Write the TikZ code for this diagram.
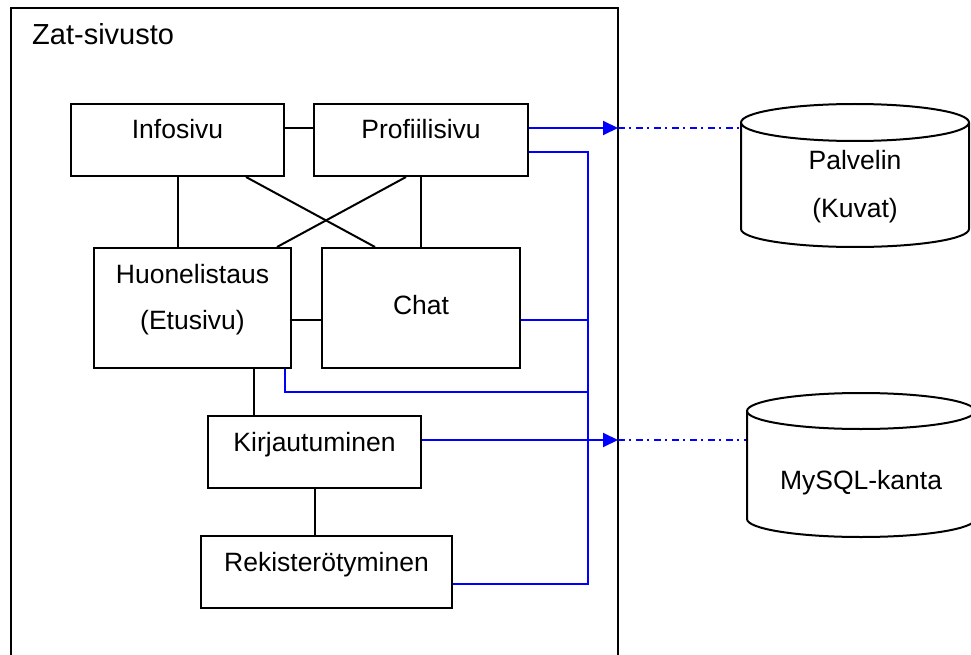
\documentclass[tikz,border=0pt]{standalone}
\usepackage{fontspec}
\setmainfont{Liberation Sans}
\usetikzlibrary{arrows.meta}
\definecolor{linkblue}{RGB}{0,0,255}
\begin{document}
\begin{tikzpicture}[x=1pt,y=-1pt,
  box/.style={draw, line width=2pt, inner sep=0pt, fill=white},
  lbl/.style={font=\fontsize{26.5}{30}\selectfont, anchor=base, inner sep=0pt},
  titletext/.style={font=\fontsize{29}{33}\selectfont, anchor=base west, inner sep=0pt},
  link/.style={draw=black, line width=2pt},
  web/.style={draw=linkblue, line width=2pt},
  webtip/.style={web, -{Triangle[length=15pt,width=14pt]}},
  remote/.style={draw=linkblue, line width=2pt, dash pattern=on 7pt off 4pt on 2pt off 5pt},
  cyl/.style={draw=black, line width=2pt},
  frame/.style={draw=black, line width=2pt}]
\useasboundingbox (0,0) rectangle (971,655);
\clip (0,0) rectangle (971,655);

% site frame
\draw[frame] (11,8) rectangle (618,690);
\node[titletext] (title) at (32,45) {Zat-sivusto};

% pages
\node[box, minimum width=213pt, minimum height=72pt]  (info) at (177.5,140) {};
\node[box, minimum width=214pt, minimum height=72pt]  (prof) at (421,140) {};
\node[box, minimum width=197pt, minimum height=120pt] (huon) at (192.5,308) {};
\node[box, minimum width=198pt, minimum height=120pt] (chat) at (421,308) {};
\node[box, minimum width=213pt, minimum height=72pt]  (kirj) at (314.5,452) {};
\node[box, minimum width=251pt, minimum height=72pt]  (reki) at (326.5,572) {};

\node[lbl] (tinfo) at (177.5,139) {Infosivu};
\node[lbl] (tprof) at (421,139) {Profiilisivu};
\node[lbl] (thuon) at (192.5,283) {Huonelistaus};
\node[lbl] (tetu)  at (192.5,329) {(Etusivu)};
\node[lbl] (tchat) at (421,314) {Chat};
\node[lbl] (tkirj) at (314.5,451) {Kirjautuminen};
\node[lbl] (treki) at (326.5,571) {Rekisterötyminen};

% links between pages
\draw[link] ([yshift=12pt]info.east) -- ([yshift=12pt]prof.west);
\draw[link] (info.south) -- (info.south |- huon.north);
\draw[link] ([xshift=68.5pt]info.south) -- ([xshift=-46pt]chat.north);
\draw[link] ([xshift=-15pt]prof.south) -- ([xshift=84.5pt]huon.north);
\draw[link] (prof.south) -- (chat.north);
\draw[link] ([yshift=-12pt]huon.east) -- ([yshift=-12pt]chat.west);
\draw[link] ([xshift=61.5pt]huon.south) -- ([xshift=-60.5pt]kirj.north);
\draw[link] (kirj.south) -- (kirj.south |- reki.north);

% data bus
\coordinate (tipA) at (618,128);
\coordinate (tipB) at (618,440);
\coordinate (busbot) at (588,584);
\coordinate (busmid) at (588,392);
\coordinate (p1) at ([yshift=-12pt]prof.east);
\coordinate (c1) at ([yshift=-12pt]chat.east);
\coordinate (h1) at ([xshift=-7pt]huon.south east);
\coordinate (r1) at ([yshift=-12pt]reki.east);

\draw[web] (p1) -| (busbot) -- (r1);
\draw[web] (c1) -- (c1 -| busbot);
\draw[web] (h1) |- (busmid);
\draw[webtip] ([yshift=12pt]prof.east) -- (tipA);
\draw[webtip] ([yshift=12pt]kirj.east) -- (tipB);

% storage
\coordinate (palv) at (741,128);
\coordinate (mysql) at (747,440);
\draw[remote] (tipA) -- (palv);
\draw[remote] (tipB) -- (mysql);

\draw[cyl] (855,122.5) ellipse [x radius=114, y radius=18.5];
\draw[cyl] (741,122.5) -- (741,229) arc[start angle=180, end angle=0, x radius=114, y radius=18] -- (969,122.5);
\node[lbl] (tpalv) at (855,170) {Palvelin};
\node[lbl] (tkuv)  at (855,217) {(Kuvat)};

\draw[cyl] (861,411) ellipse [x radius=114, y radius=18];
\draw[cyl] (747,411) -- (747,519) arc[start angle=180, end angle=0, x radius=114, y radius=18] -- (975,411);
\node[lbl] (tmysql) at (861,489) {MySQL-kanta};
\end{tikzpicture}
\end{document}
